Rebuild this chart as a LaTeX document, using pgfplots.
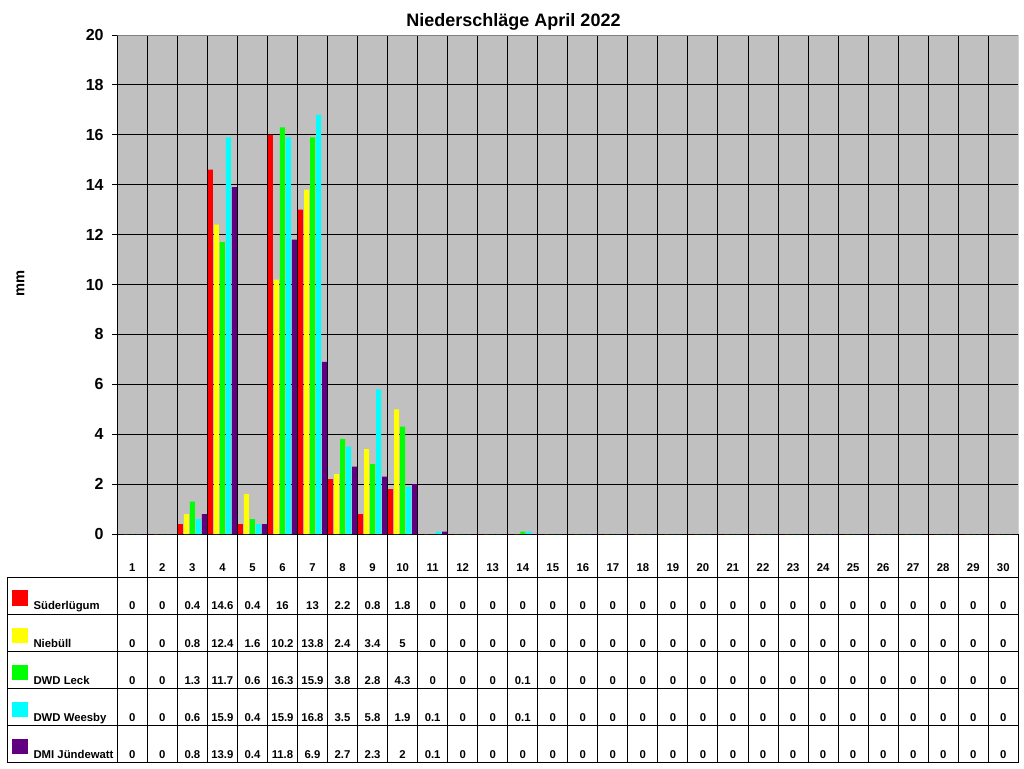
\documentclass[border=0pt]{standalone}
\usepackage{fontspec}
\setmainfont{Liberation Sans}
\usepackage{pgfplots}
\usepackage{pgfplotstable}
\pgfplotsset{compat=1.18}

\definecolor{plotbg}{HTML}{C0C0C0}
\definecolor{framegray}{HTML}{808080}
\definecolor{sud}{HTML}{FF0000}
\definecolor{nie}{HTML}{FFFF00}
\definecolor{leck}{HTML}{00FF00}
\definecolor{wee}{HTML}{00FFFF}
\definecolor{dmi}{HTML}{600080}

% Niederschlag in mm, April 2022
\pgfplotstableread{
day sud  nie  leck wee  dmi
1   0    0    0    0    0
2   0    0    0    0    0
3   0.4  0.8  1.3  0.6  0.8
4   14.6 12.4 11.7 15.9 13.9
5   0.4  1.6  0.6  0.4  0.4
6   16   10.2 16.3 15.9 11.8
7   13   13.8 15.9 16.8 6.9
8   2.2  2.4  3.8  3.5  2.7
9   0.8  3.4  2.8  5.8  2.3
10  1.8  5    4.3  1.9  2
11  0    0    0    0.1  0.1
12  0    0    0    0    0
13  0    0    0    0    0
14  0    0    0.1  0.1  0
15  0    0    0    0    0
16  0    0    0    0    0
17  0    0    0    0    0
18  0    0    0    0    0
19  0    0    0    0    0
20  0    0    0    0    0
21  0    0    0    0    0
22  0    0    0    0    0
23  0    0    0    0    0
24  0    0    0    0    0
25  0    0    0    0    0
26  0    0    0    0    0
27  0    0    0    0    0
28  0    0    0    0    0
29  0    0    0    0    0
30  0    0    0    0    0
}\rain

\newcommand{\tabfont}{\fontsize{8.5}{10}\selectfont\bfseries}

\begin{document}
\begin{tikzpicture}
\begin{axis}[
   at={(87.975pt,-400.5pt)}, anchor=south west,
   scale only axis,
   width=675.75pt, height=374.25pt,
   xmin=0.5, xmax=30.5, ymin=0, ymax=20,
   enlargelimits=false,
   ybar=0.75pt, bar width=3.75pt,
   axis background/.style={fill=plotbg},
   axis x line*=bottom, axis y line*=left,
   axis line style={-, black, line width=0.75pt},
   xtick={1,...,30},
   minor xtick={1.5,2.5,...,29.5},
   xminorgrids,
   ytick={0,2,...,20},
   ymajorgrids,
   major grid style={black, line width=0.75pt},
   minor grid style={black, line width=0.75pt},
   tick align=outside,
   major tick length=3.75pt, minor tick length=0pt,
   tick style={black, line width=0.75pt},
   xtick style={/pgfplots/major tick length=0pt},
   /pgf/number format/assume math mode=true,
   yticklabel style={font=\fontsize{12}{14}\selectfont\bfseries, xshift=-3pt},
   xticklabel style={font=\tabfont, anchor=base, yshift=-24pt},
]
\addplot[fill=sud, draw=none] table[x=day, y=sud] {\rain};
\addplot[fill=nie, draw=none] table[x=day, y=nie] {\rain};
\addplot[fill=leck, draw=none] table[x=day, y=leck] {\rain};
\addplot[fill=wee, draw=none] table[x=day, y=wee] {\rain};
\addplot[fill=dmi, draw=none] table[x=day, y=dmi] {\rain};
\draw[framegray, line width=0.75pt] (rel axis cs:0,1) -- (rel axis cs:1,1) -- (rel axis cs:1,0);
\end{axis}

% page in pixel units, y downwards
\begin{scope}[x=0.75pt, y=-0.75pt]
\path (0,0) rectangle (1024,768);
\node[font=\fontsize{13.5}{16}\selectfont\bfseries, anchor=base] at (513.5,26.7) {Niederschläge April 2022};
\node[font=\fontsize{11}{13}\selectfont\bfseries, rotate=90, anchor=base] at (24.3,283.7) {mm};

% data table
\begin{scope}[black, line width=0.75pt]
\foreach \k in {0,...,30}
  \draw ({117.3+\k*30.033},534) -- ({117.3+\k*30.033},762.8);
\foreach \k in {0,...,5}
  \draw (7.3,{577.3+\k*37.1}) -- (1018.3,{577.3+\k*37.1});
\draw (7.3,577.3) -- (7.3,762.8);
\end{scope}

\foreach \c/\name [count=\r from 0] in {sud/Süderlügum, nie/Niebüll, leck/DWD Leck, wee/DWD Weesby, dmi/DMI Jündewatt} {
  \pgfmathsetmacro\bl{577.3+(\r+1)*37.1-4.5}
  \fill[\c] (12.3,{\bl-19.5}) rectangle (27.7,{\bl-4});
  \node[anchor=base west, inner sep=0pt, font=\tabfont] at (33.3,\bl) {\name};
  \foreach \d in {0,...,29} {
    \pgfplotstablegetelem{\d}{\c}\of\rain
    \node[anchor=base, inner sep=0pt, font=\tabfont] at ({117.3+(\d+0.5)*30.033},\bl) {\pgfplotsretval};
  }
}
\end{scope}
\end{tikzpicture}
\end{document}
